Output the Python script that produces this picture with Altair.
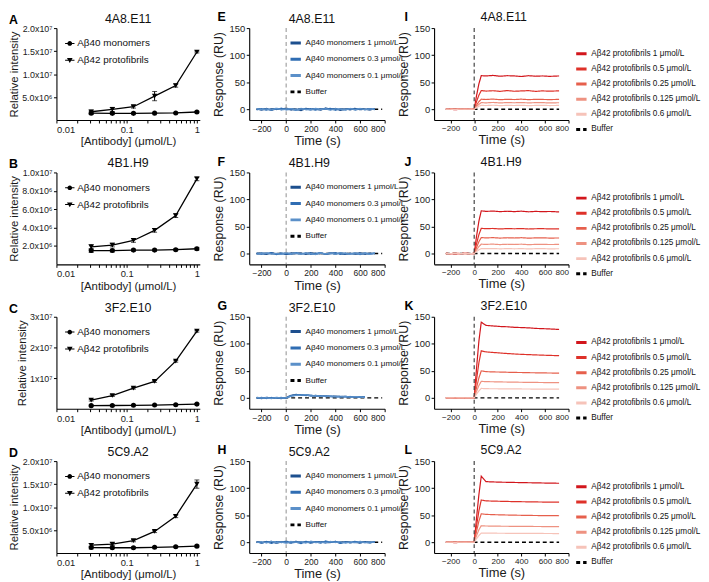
import json
import altair as alt
import pandas as pd

FONT = "Liberation Sans"

ANTIBODIES = ["4A8.E11", "4B1.H9", "3F2.E10", "5C9.A2"]
LETTERS = [["A", "E", "I"], ["B", "F", "J"], ["C", "G", "K"], ["D", "H", "L"]]

# ---------------- dose-response panels (A-D) ----------------
CONC = [0.03125, 0.0625, 0.125, 0.25, 0.5, 1.0]
DR_SERIES = ["Aβ40 monomers", "Aβ42 protofibrils"]
MONO = [
    [1.50e6, 1.45e6, 1.45e6, 1.50e6, 1.55e6, 1.75e6],
    [1.50e6, 1.50e6, 1.55e6, 1.55e6, 1.60e6, 1.70e6],
    [1.00e6, 1.05e6, 1.10e6, 1.20e6, 1.30e6, 1.50e6],
    [1.20e6, 1.15e6, 1.15e6, 1.25e6, 1.35e6, 1.50e6],
]
MONO_ERR = [
    [0.30e6, 0.20e6, 0.15e6, 0.10e6, 0.10e6, 0.15e6],
    [0.20e6, 0.15e6, 0.10e6, 0.10e6, 0.10e6, 0.15e6],
    [0.20e6, 0.15e6, 0.15e6, 0.15e6, 0.15e6, 0.20e6],
    [0.30e6, 0.20e6, 0.15e6, 0.15e6, 0.15e6, 0.20e6],
]
PROTO = [
    [1.80e6, 2.30e6, 2.90e6, 5.20e6, 7.50e6, 1.48e7],
    [1.90e6, 2.10e6, 2.60e6, 3.70e6, 5.30e6, 9.30e6],
    [2.80e6, 4.30e6, 6.70e6, 8.90e6, 1.55e7, 2.53e7],
    [1.70e6, 1.95e6, 2.70e6, 4.70e6, 8.00e6, 1.50e7],
]
PROTO_ERR = [
    [0.35e6, 0.45e6, 0.30e6, 1.00e6, 0.35e6, 0.20e6],
    [0.25e6, 0.20e6, 0.20e6, 0.20e6, 0.20e6, 0.20e6],
    [0.30e6, 0.30e6, 0.30e6, 0.30e6, 0.30e6, 0.30e6],
    [0.35e6, 0.30e6, 0.25e6, 0.25e6, 0.30e6, 0.90e6],
]
Y_MAX = [2e7, 1e7, 3e7, 2e7]
Y_TICKS = [
    [5e6, 1e7, 1.5e7, 2e7],
    [2e6, 4e6, 6e6, 8e6, 1e7],
    [1e7, 2e7, 3e7],
    [5e6, 1e7, 1.5e7, 2e7],
]
Y_TICK_LABELS = [
    ["5.0x10⁶", "1.0x10⁷", "1.5x10⁷", "2.0x10⁷"],
    ["2.0x10⁶", "4.0x10⁶", "6.0x10⁶", "8.0x10⁶", "1.0x10⁷"],
    ["1x10⁷", "2x10⁷", "3x10⁷"],
    ["5.0x10⁶", "1.0x10⁷", "1.5x10⁷", "2.0x10⁷"],
]
X_TICKS = [0.01, 0.02, 0.03, 0.04, 0.05, 0.06, 0.07, 0.08, 0.09,
           0.1, 0.2, 0.3, 0.4, 0.5, 0.6, 0.7, 0.8, 0.9, 1]
X_TICK_LABELED = [0.01, 0.1, 1]
X_TICK_TEXT = ["0.01", "0.1", "1"]

# ---------------- SPR monomer panels (E-H) ----------------
MID_SERIES = ["Aβ40 monomers 1 μmol/L", "Aβ40 monomers 0.3 μmol/L", "Aβ40 monomers 0.1 μmol/L"]
MID_COLORS = ["#1d4f8e", "#2f6db3", "#5b90c9"]
T_BLUE = [-240, -200, -160, -120, -80, -40, 0, 40, 80, 120, 160, 200, 240,
          280, 320, 360, 400, 440, 480, 520, 560, 600, 640, 680, 720]
T_BLUE_G = [-240, -200, -160, -120, -80, -40, 0, 40, 80, 120, 160, 200, 240,
            280, 320, 360, 400, 440, 480, 520, 560, 600, 640]
NOISE_1 = [0.5, -1.5, 1.2, -2.0, 0.8, -0.5, 1.8, -1.2, 0.3, -2.2, 1.5, -0.8, 0.9,
           -1.6, 2.0, -0.4, 1.1, -1.9, 0.6, -1.0, 1.4, -0.7, 0.2, -1.3, 0.8]
NOISE_2 = [-0.8, 1.0, -1.4, 0.6, -0.3, 1.6, -1.1, 0.4, -1.8, 1.2, -0.6, 0.9, -1.5,
           0.7, -0.2, 1.3, -1.7, 0.5, -0.9, 1.1, -1.2, 0.8, -0.5, 1.0, -0.6]
NOISE_3 = [1.1, -0.6, 0.4, -1.3, 1.5, -0.9, 0.2, 1.0, -1.4, 0.6, -0.2, -1.1, 1.3,
           -0.5, 0.8, -1.6, 0.7, 0.3, -1.2, 0.9, -0.4, 1.2, -1.0, 0.5, -0.3]
NOISE_4 = [-0.4, 0.9, -1.2, 1.4, -0.7, 0.3, -1.5, 1.1, -0.2, 0.8, -1.3, 1.6, -0.6,
           0.4, -1.0, 1.2, -0.3, 0.9, -1.4, 0.5, -0.8, 1.3, -1.1, 0.6, -0.2]
NOISE_5 = [0.9, -1.1, 0.3, 1.2, -1.6, 0.7, -0.4, -1.0, 1.5, -0.5, 0.6, -1.2, 0.4,
           1.1, -0.9, -0.2, 1.4, -1.3, 0.8, -0.6, 0.2, -1.5, 1.0, -0.4, 0.7]
NOISE_6 = [-1.2, 0.4, 0.8, -0.9, 0.2, -1.4, 1.3, -0.3, 0.7, -1.1, 1.0, 0.1, -1.6,
           0.9, -0.5, 0.6, -1.2, 1.4, -0.1, -0.8, 1.1, -0.6, 0.5, -1.3, 0.9]
G_1 = [0.4, -1.0, 0.8, -0.6, 0.3, -1.2, 0.5, 4.5, 6.2, 4.8, 5.5, 3.9, 4.2,
       3.0, 3.6, 2.4, 3.1, 2.2, 2.8, 1.6, 2.3, 1.2, 1.8]
G_2 = [-0.6, 0.7, -0.9, 0.5, -0.4, 0.6, -0.2, 3.8, 5.4, 6.0, 4.6, 4.9, 3.3,
       3.8, 2.6, 3.2, 2.1, 2.7, 1.9, 2.4, 1.4, 2.0, 1.1]
G_3 = [0.9, -0.4, 0.2, -1.1, 0.8, -0.3, 0.1, 3.2, 4.8, 5.1, 5.8, 3.6, 4.4,
       2.9, 3.4, 2.8, 2.4, 1.8, 2.6, 1.5, 2.1, 1.7, 0.9]
MID_TIMES = [T_BLUE, T_BLUE, T_BLUE_G, T_BLUE]
MID_VALUES = [
    [NOISE_1, NOISE_2, NOISE_3],
    [NOISE_4, NOISE_5, NOISE_6],
    [G_1, G_2, G_3],
    [NOISE_5, NOISE_1, NOISE_4],
]
MID_BUFFER_T = [-240, 780]

# ---------------- SPR protofibril panels (I-L) ----------------
RIGHT_SERIES = ["Aβ42 protofibrils 1 μmol/L", "Aβ42 protofibrils 0.5 μmol/L",
                "Aβ42 protofibrils 0.25 μmol/L", "Aβ42 protofibrils 0.125 μmol/L",
                "Aβ42 protofibrils 0.6 μmol/L"]
RIGHT_COLORS = ["#d2161c", "#de3129", "#e65f4c", "#ee9281", "#f6c3b9"]
T_RED = [-240, -160, -80, 0, 20, 40, 60, 100, 160, 220, 280, 340, 400, 460, 520, 580, 640, 720]
RIGHT_VALUES = [
    [
        [0.5, -0.8, 0.6, -0.3, 25, 47, 62, 61.5, 62.5, 61, 62, 61.5, 60.5, 62, 61, 61.5, 60.8, 61.5],
        [-0.4, 0.6, -0.5, 0.2, 14, 26, 34.5, 33.5, 34.2, 33, 34.5, 33.2, 33.8, 34.4, 33, 33.9, 33.3, 34],
        [0.3, -0.5, 0.4, -0.2, 7.5, 14, 18.5, 18, 18.8, 17.6, 18.4, 17.9, 18.6, 17.7, 18.3, 18.1, 17.8, 18.2],
        [-0.3, 0.4, -0.2, 0.3, 5, 9, 12.2, 11.8, 12.5, 11.6, 12.3, 11.9, 12.4, 11.7, 12.1, 12.2, 11.6, 12],
        [0.2, -0.3, 0.3, -0.1, 3, 5.5, 7.2, 6.8, 7.4, 6.7, 7.1, 6.9, 7.3, 6.6, 7.0, 7.2, 6.8, 7.0],
    ],
    [
        [0.4, -0.7, 0.5, -0.2, 32, 60, 79, 78, 78.5, 77.5, 78.2, 77.6, 78.4, 77.2, 77.9, 77.5, 77.8, 77],
        [-0.5, 0.5, -0.3, 0.3, 18, 35, 46.5, 46, 46.4, 45.5, 46.2, 45.8, 46.3, 45.4, 45.9, 46, 45.6, 45.8],
        [0.3, -0.4, 0.4, -0.2, 11, 22, 29.5, 29, 29.4, 28.6, 29.2, 28.8, 29.3, 28.5, 28.9, 29.1, 28.6, 28.8],
        [-0.2, 0.3, -0.3, 0.2, 6.5, 13, 17.3, 17, 17.4, 16.6, 17.2, 16.8, 17.3, 16.5, 16.9, 17.1, 16.7, 16.9],
        [0.2, -0.2, 0.2, -0.1, 3.5, 7, 9.3, 9, 9.3, 8.7, 9.2, 8.8, 9.1, 8.6, 9, 9.1, 8.7, 8.9],
    ],
    [
        [0.5, -0.8, 0.6, -0.3, 55, 105, 140, 134, 133, 132, 131.5, 130.5, 130, 129.5, 128.5, 128, 127.5, 126.5],
        [-0.5, 0.6, -0.4, 0.2, 34, 65, 87, 85, 84, 83, 82, 81.2, 80.5, 80, 79.5, 79, 78.6, 78],
        [0.4, -0.4, 0.3, -0.2, 19, 37, 50, 48.5, 48, 47.8, 47.4, 47.1, 46.9, 46.6, 46.4, 46.2, 46, 45.8],
        [-0.3, 0.3, -0.2, 0.2, 12, 23, 30.5, 30, 29.8, 29.5, 29.3, 29.1, 28.9, 28.7, 28.6, 28.4, 28.3, 28.1],
        [0.2, -0.2, 0.2, -0.1, 7, 13, 17.5, 17, 16.9, 16.8, 16.7, 16.6, 16.5, 16.4, 16.3, 16.2, 16.2, 16.1],
    ],
    [
        [0.6, -0.9, 0.7, -0.4, 45, 88, 122, 112, 111.5, 111, 110.8, 110.5, 110.2, 110, 109.8, 109.5, 109.3, 109],
        [-0.5, 0.6, -0.4, 0.3, 30, 58, 78, 76.5, 76, 75.7, 75.4, 75.1, 74.9, 74.7, 74.5, 74.3, 74.1, 74],
        [0.4, -0.4, 0.3, -0.2, 20, 39, 52.5, 51.5, 51, 50.6, 50.3, 50, 49.8, 49.6, 49.4, 49.2, 49.1, 49],
        [-0.3, 0.3, -0.2, 0.2, 12, 23, 30.5, 30, 29.8, 29.6, 29.5, 29.4, 29.3, 29.2, 29.1, 29, 29, 28.9],
        [0.2, -0.2, 0.2, -0.1, 6.5, 12.5, 17, 16.8, 16.7, 16.6, 16.5, 16.4, 16.3, 16.3, 16.2, 16.2, 16.1, 16],
    ],
]
RIGHT_BUFFER_T = [-240, 720]
BUFFER_RU = [0, 0]

SPR_X_TICKS = [-200, 0, 200, 400, 600, 800]
SPR_Y_TICKS = [0, 50, 100, 150]

W = [145, 137, 136]
H = 93

CIRCLE_LINE = ("M-1,-0.11H1V0.11H-1Z"
               "M0.5,0A0.5,0.5,0,1,1,-0.5,0A0.5,0.5,0,1,1,0.5,0Z")
TRI_LINE = "M-1,-0.11H1V0.11H-1ZM-0.6,-0.45H0.6L0,0.6Z"


def label_layers(letter, lx, ly, name, nx, ny, align):
    let = alt.Chart(pd.DataFrame({"lab": [letter]})).mark_text(
        font=FONT, fontSize=12.5, fontWeight="bold", align="left", baseline="top", color="black"
    ).encode(text="lab:N", x=alt.value(lx), y=alt.value(ly))
    ttl = alt.Chart(pd.DataFrame({"lab": [name]})).mark_text(
        font=FONT, fontSize=12.5, align=align, baseline="top", color="#111"
    ).encode(text="lab:N", x=alt.value(nx), y=alt.value(ny))
    return [let, ttl]


def dose_panel(i):
    rows = []
    for s, vals, errs in [(DR_SERIES[0], MONO[i], MONO_ERR[i]), (DR_SERIES[1], PROTO[i], PROTO_ERR[i])]:
        for c, v, e in zip(CONC, vals, errs):
            rows.append({"series": s, "conc": c, "val": v, "lo": v - e, "hi": v + e})
    df = pd.DataFrame(rows)
    x_lab_expr = "{}[indexof({}, datum.value)] || ''".format(
        json.dumps(X_TICK_TEXT), json.dumps(X_TICK_LABELED))
    y_lab_expr = "{}[indexof({}, datum.value)]".format(
        json.dumps(Y_TICK_LABELS[i], ensure_ascii=False), json.dumps(Y_TICKS[i]))
    x = alt.X("conc:Q", scale=alt.Scale(type="log", domain=[0.01, 1.1], nice=False),
              axis=alt.Axis(values=X_TICKS, tickCount=50, labelExpr=x_lab_expr, labelOverlap=False,
                            title="[Antibody] (μmol/L)", titleFontSize=11.5))
    y = alt.Y("val:Q", scale=alt.Scale(domain=[0, Y_MAX[i]], nice=False),
              axis=alt.Axis(values=Y_TICKS[i], tickCount=50, labelExpr=y_lab_expr,
                            title="Relative intensity", titleFontSize=11.5, labelFontSize=9,
                            labelOverlap=False))
    base = alt.Chart(df)
    line = base.mark_line(color="black", strokeWidth=1.3).encode(x=x, y=y, detail="series:N")
    err = base.mark_errorbar(ticks=True, color="black").encode(
        x=x, y=alt.Y("lo:Q", title="Relative intensity"), y2="hi:Q")
    p1 = base.transform_filter(alt.datum.series == DR_SERIES[0]).mark_point(
        shape="circle", filled=True, size=26, color="black", opacity=1).encode(x=x, y=y)
    p2 = base.transform_filter(alt.datum.series == DR_SERIES[1]).mark_point(
        shape="triangle-down", filled=True, size=30, color="black", opacity=1).encode(x=x, y=y)
    ghost = base.mark_point(opacity=0, filled=True, color="black").encode(
        x=x, y=y,
        shape=alt.Shape("series:N", scale=alt.Scale(domain=DR_SERIES, range=[CIRCLE_LINE, TRI_LINE]),
                        legend=alt.Legend(title=None, orient="none", legendX=8, legendY=10,
                                          labelFontSize=10, labelFont=FONT, labelColor="#111",
                                          symbolSize=90, symbolOpacity=1, symbolFillColor="black",
                                          rowPadding=6, padding=0, labelOffset=2)))
    labs = label_layers(LETTERS[i][0], -48, -14, ANTIBODIES[i], W[0] / 2, -15, "center")
    return alt.layer(line, err, p1, p2, ghost, *labs).properties(width=W[0], height=H)


def spr_panel(i, col, times_list, values, series, colors, buf_t, xdom, rule_color,
              legx, legy, lab_size, row_pad, name_x, name_y, xlab_size):
    recs = []
    for s, times, vals in zip(series, times_list, values):
        for t, v in zip(times, vals):
            recs.append({"series": s, "t": t, "ru": v})
    ser_df = pd.DataFrame(recs)
    buf_df = pd.DataFrame({"series": ["Buffer"] * len(buf_t), "t": buf_t, "ru": BUFFER_RU})
    domain = series + ["Buffer"]
    leg = alt.Legend(title=None, orient="none", legendX=legx, legendY=legy, labelFontSize=lab_size,
                     labelFont=FONT, labelColor="#111", symbolType="stroke", symbolSize=110,
                     symbolStrokeWidth=3, rowPadding=row_pad, padding=0, labelLimit=400,
                     labelOffset=3)
    x = alt.X("t:Q", scale=alt.Scale(domain=xdom, nice=False, zero=False),
              axis=alt.Axis(values=SPR_X_TICKS, tickCount=50, title="Time (s)", titleFontSize=13,
                            labelOverlap=False, labelFontSize=xlab_size))
    y = alt.Y("ru:Q", scale=alt.Scale(domain=[-20, 150], nice=False, zero=False),
              axis=alt.Axis(values=SPR_Y_TICKS, tickCount=50, title="Response (RU)",
                            titleFontSize=12.5, titlePadding=4, labelOverlap=False))
    color = alt.Color("series:N", scale=alt.Scale(domain=domain, range=colors + ["black"]), legend=leg)
    dash = alt.StrokeDash("series:N",
                          scale=alt.Scale(domain=domain, range=[[1, 0]] * len(series) + [[4, 3]]),
                          legend=leg)
    buf = alt.Chart(buf_df).mark_line(strokeWidth=1.4).encode(x=x, y=y, color=color, strokeDash=dash)
    lines = alt.Chart(ser_df).mark_line(strokeWidth=1.5 if col == 1 else 1.2).encode(
        x=x, y=y, color=color, strokeDash=dash)
    rule = alt.Chart(pd.DataFrame({"t": [0]})).mark_rule(
        color=rule_color, strokeDash=[4, 3], strokeWidth=1.1).encode(x=alt.X("t:Q"))
    labs = label_layers(LETTERS[i][col], -32 if col == 1 else -30, -17,
                        ANTIBODIES[i], name_x, name_y, "left")
    return alt.layer(buf, lines, rule, *labs).properties(width=W[col], height=H)


panels = []
for i in range(4):
    panels.append(dose_panel(i))
    panels.append(spr_panel(i, 1, [MID_TIMES[i]] * 3, MID_VALUES[i], MID_SERIES, MID_COLORS,
                            MID_BUFFER_T, [-300, 800], "#9a9a9a", 40, 8, 8.2, 3.5, 40, -15, 8.6))
    panels.append(spr_panel(i, 2, [T_RED] * 5, RIGHT_VALUES[i], RIGHT_SERIES, RIGHT_COLORS,
                            RIGHT_BUFFER_T, [-340, 800], "#333333", 142, 19, 8.3, 2.3, 47, -17, 8.2))

chart = alt.concat(*panels, columns=3, spacing={"row": 53, "column": 50}, bounds="flush",
                   align="each").resolve_scale(
    x="independent", y="independent", color="independent", strokeDash="independent",
    shape="independent").resolve_axis(x="independent", y="independent").resolve_legend(
    color="independent", strokeDash="independent", shape="independent")

chart = chart.properties(padding=0).configure(
    font=FONT).configure_view(stroke=None).configure_axis(
    domainColor="#000", tickColor="#000", labelColor="#1a1a1a", titleColor="#1a1a1a",
    grid=False, tickSize=3, labelFontSize=9.5, titleFontWeight="normal", labelPadding=1.5,
    titlePadding=2, labelFont=FONT, titleFont=FONT, domainWidth=1.1, tickWidth=1)

chart.save("out.html", embed_options={"renderer": "svg", "actions": False})
